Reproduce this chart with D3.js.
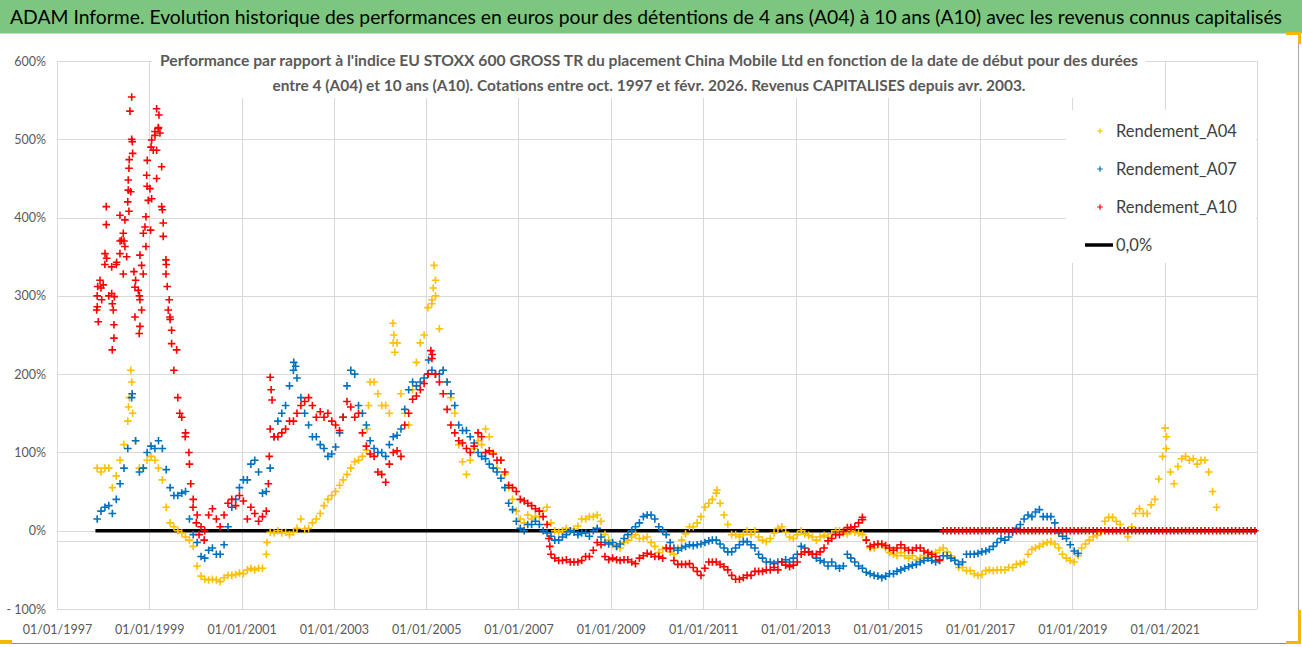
<!DOCTYPE html>
<html><head><meta charset="utf-8">
<script src="https://cdn.jsdelivr.net/npm/d3@7"></script>
<style>
html,body{margin:0;padding:0;background:#fff;}
svg{display:block;}
</style></head><body>
<svg id="chart" width="1302" height="647"></svg>
<script>
// ---------------- DATA ----------------
const titleText = "ADAM Informe. Evolution historique des performances en euros pour des détentions de 4 ans (A04) à 10 ans (A10) avec les revenus connus capitalisés";
const subtitleLines = [
  "Performance par rapport à l'indice EU STOXX 600 GROSS TR  du placement China Mobile Ltd en fonction de la date de début pour des durées",
  "entre 4 (A04) et 10 ans (A10). Cotations entre oct. 1997 et févr. 2026. Revenus CAPITALISES depuis avr. 2003."
];
const seriesNames = ["Rendement_A04", "Rendement_A07", "Rendement_A10"];
const zeroLineName = "0,0%";
const firstMonth = "1997-11";          // month of first value in each series
const lastAxisMonth = "2022-12";       // last month reached by the 0 % line
// monthly values (%) of each series, from Nov 1997
const a04 = [
  80, 75,
  80, 80, 55, 70, 90, 110, 140, 190, 115, 80, 80, 90,
  95, 90, 80, 65, 30, 10, 5, 0, -3, -8, -12, -20,
  -45, -58, -62, -63, -62, -63, -65, -60, -57, -57, -56, -54,
  -55, -50, -48, -50, -48, -48, -30, -2, -3, 0, -3, -2,
  -5, -2, 3, 15, 2, 3, 10, 15, 22, 32, 40, 45,
  50, 58, 65, 72, 80, 88, 90, 95, 103, 190, 190, 175,
  160, 160, 150, 240, 240, 175, 150, 135, 180, 215, 240, 250,
  285, 295, 320, 258, 205, 190, 170, 150, 110, 88, 72, 90,
  105, 115, 110, 130, 120, 100, 80, 90, 72, 55, 40, 25,
  15, 10, 20, 15, 18, 18, 25, 30, 10, 0, -2, 0,
  3, 0, 2, 6, 15, 15, 18, 18, 20, 12, -5, -12,
  -18, -20, -22, -15, -12, -8, -5, -10, -10, -8, -15, -20,
  -28, -24, -22, -27, -30, -22, -12, -4, 5, 5, 10, 18,
  30, 35, 40, 48, 35, 20, 8, -5, -5, -8, -5, 0,
  -5, 0, -8, -12, -14, -10, -3, 3, 5, -2, -8, -10,
  -5, 0, -4, -6, -8, -12, -8, -6, -8, -4, 0, 0,
  -3, -4, 0, -2, -3, -5, -12, -22, -22, -18, -18, -22,
  -28, -30, -32, -28, -32, -35, -32, -37, -35, -32, -35, -33,
  -28, -25, -22, -27, -32, -37, -47, -47, -51, -51, -55, -57,
  -56, -51, -50, -51, -50, -50, -50, -47, -47, -43, -42, -40,
  -30, -24, -22, -20, -17, -15, -14, -17, -22, -30, -35, -38,
  -40, -32, -22, -17, -12, -8, -6, -2, 12, 17, 17, 12,
  8, 0, -8, 5, 22, 28, 22, 22, 33, 40, 66, 95,
  120, 75, 60, 82, 92, 95, 90, 92, 85, 90, 90, 75,
  50, 30
];
const a07 = [
  15, 25,
  30, 32, 22, 40, 60, 80, 105, 170, 115, 75, 80, 100,
  108, 105, 115, 105, 78, 55, 45, 45, 48, 50, 15, -5,
  -15, -33, -35, -25, -22, -30, -30, -18, 5, 30, 40, 55,
  65, 65, 85, 90, 75, 48, 50, 80, 120, 140, 150, 160,
  185, 205, 195, 170, 150, 135, 120, 120, 110, 105, 95, 98,
  107, 125, 145, 185, 205, 200, 160, 150, 135, 115, 105, 100,
  100, 95, 110, 120, 122, 130, 155, 180, 190, 185, 190, 195,
  200, 205, 200, 200, 205, 190, 175, 160, 135, 128, 128, 120,
  112, 100, 95, 92, 85, 80, 75, 67, 55, 35, 27, 12,
  3, 0, 8, 8, 12, 8, 0, -3, -7, -12, -12, -8,
  -5, 0, -2, -5, -3, -3, -7, 0, 3, -8, -15, -17,
  -15, -20, -17, -10, -5, 0, 5, 10, 18, 20, 20, 15,
  5, 0, -5, -15, -22, -25, -22, -20, -18, -19, -18, -17,
  -15, -13, -12, -12, -17, -22, -27, -27, -22, -18, -14, -14,
  -18, -22, -30, -35, -40, -40, -42, -40, -40, -37, -40, -35,
  -30, -20, -22, -27, -30, -35, -38, -40, -45, -40, -45, -48,
  -45, -30, -35, -40, -45, -48, -53, -55, -57, -58, -60, -58,
  -55, -55, -52, -50, -48, -46, -44, -43, -40, -38, -35, -38,
  -40, -37, -32, -32, -35, -38, -43, -40, -30, -30, -30, -29,
  -27, -26, -24, -20, -15, -10, -12, -8, -2, 3, 8, 15,
  20, 18, 24, 27, 18, 18, 18, 10, -3, -7, -10, -18,
  -26, -29
];
const a10 = [
  300, 310,
  340, 300, 290, 340, 370, 370, 420, 500, 320, 300, 380, 440,
  490, 510, 515, 410, 340, 270, 205, 170, 145, 125, 85, 40,
  20, 5, 0, 20, 28, 15, 5, 20, 35, 40, 32, 45,
  38, 15, 30, 22, 12, 18, 25, 130, 120, 120, 125, 130,
  140, 140, 150, 160, 165, 170, 160, 145, 152, 145, 150, 140,
  135, 128, 145, 165, 158, 145, 150, 125, 108, 98, 95, 75,
  72, 62, 85, 100, 102, 95, 135, 150, 168, 172, 180, 188,
  200, 220, 200, 190, 175, 155, 135, 125, 115, 112, 105, 100,
  108, 125, 120, 100, 102, 98, 90, 90, 75, 58, 55, 50,
  40, 38, 35, 32, 28, 25, 18, 8, -30, -35, -38, -38,
  -37, -40, -40, -40, -38, -33, -33, -25, -15, -18, -33, -37,
  -35, -37, -38, -37, -37, -40, -42, -35, -32, -29, -30, -33,
  -33, -35, -22, -23, -38, -43, -43, -43, -42, -47, -52, -57,
  -48, -40, -40, -40, -43, -46, -50, -57, -62, -62, -60, -57,
  -57, -52, -52, -52, -50, -50, -47, -50, -40, -44, -46, -44,
  -40, -30, -27, -27, -30, -30, -27, -22, -13, -10, -5, -5,
  -1, 4, 4, 5, 10, 14, -12, -20, -18, -17, -17, -19,
  -22, -25, -22, -18, -22, -25, -25, -22, -22, -26, -28, -30,
  -33, -38, 0, 0, 0, 0, 0, 0, 0, 0, 0, 0,
  0, 0, 0, 0, 0, 0, 0, 0, 0, 0, 0, 0,
  0, 0, 0, 0, 0, 0, 0, 0, 0, 0, 0, 0,
  0, 0, 0, 0, 0, 0, 0, 0, 0, 0, 0, 0,
  0, 0, 0, 0, 0, 0, 0, 0, 0, 0, 0, 0,
  0, 0, 0, 0, 0, 0, 0, 0, 0, 0, 0, 0,
  0, 0, 0, 0, 0, 0, 0, 0, 0, 0, 0, 0
];
// additional individual points (peaks, steep moves): [decimal year, value %]
const a04ExtraPoints = [
  [1998.60,205],[1998.57,170],[1998.55,158],[1998.64,150],
  [2001.55,-15],[2003.72,130],[2003.75,160],
  [2004.28,265],[2004.30,250],[2004.32,228],
  [2005.17,339],[2005.15,310],[2005.20,300],[2005.12,290],
  [2011.30,52],[2021.01,131],[2021.03,105]
];
const a07ExtraPoints = [
  [1998.63,175],[2002.13,215],[2002.17,210],[2005.05,218]
];
const a10ExtraPoints = [
  [1998.619,554],[1998.582,536],[1998.632,497],[1998.640,482],[1998.567,474],[1998.560,463],
  [1998.545,448],[1998.545,435],[1998.597,433],[1998.560,408],[1998.068,414],[1998.068,391],
  [1998.365,403],[1998.473,397],[1998.437,380],[1998.402,371],[1998.473,363],[1998.365,354],
  [1998.040,354],[1998.077,348],[1998.294,343],[1998.510,350],[1998.437,328],[1998.185,337],
  [1997.932,320],[1997.882,312],[1998.003,314],[1998.185,303],[1998.242,299],[1997.969,295],
  [1997.873,286],[1997.860,282],[1998.220,282],[1997.895,267],[1998.235,263],[1998.235,246],
  [1998.198,231],
  [1999.160,539],[1999.210,531],[1999.195,514],[1999.052,499],[1999.124,505],[1999.232,508],
  [1999.160,486],[1999.087,486],[1998.957,473],[1998.944,454],[1999.160,450],[1999.269,465],
  [1999.015,437],[1998.978,422],[1999.052,424],[1998.928,401],[1999.269,414],[1999.303,393],
  [1998.907,388],[1999.030,384],[1998.928,363],[1998.798,352],[1998.835,339],[1998.870,328],
  [1998.668,331],[1998.762,307],[1998.690,311],[1998.798,295],[1998.835,282],[1998.690,273],
  [1998.798,261],[1998.783,252],[1999.303,376],[1999.362,346],[1999.362,328],[1999.390,312],
  [1999.433,295],[1999.412,282],[1999.449,273],[1999.485,256],[1999.485,239],[1999.594,231],
  [1999.66,150],[1999.78,120],[1999.86,100],[1999.90,60],[1999.95,30],[2000.02,10],
  [2000.08,-5],[2000.19,-12],
  [2001.58,60],[2001.60,95],[2001.62,196],[2001.64,180],[2001.66,167],
  [2005.10,230],[2005.13,225],[2007.66,-10],[2007.68,-20],[2014.45,17]
];
const zeroLineValue = 0;
const yTickValues = [-100, 0, 100, 200, 300, 400, 500, 600];
const xTickYears = [1997, 1999, 2001, 2003, 2005, 2007, 2009, 2011, 2013, 2015, 2017, 2019, 2021];
const xDomainYears = [1997, 2023];
const axisCrossValue = -13;   // value where the horizontal axis line is drawn

// ---------------- STYLE ----------------
const colors = ["#FFC000", "#0070C0", "#FF0000"];
const W = 1302, H = 647;
const plot = {left: 57, right: 1257, top: 61, bottom: 609};
const fontMain = "'Liberation Sans Narrow','Lato','Open Sans',sans-serif";
const fontAxis = "'Lato','Open Sans',sans-serif";

const svg = d3.select("#chart");
const x = d3.scaleTime()
  .domain(xDomainYears.map(y => new Date(y, 0, 1)))
  .range([plot.left, plot.right]);
const y = d3.scaleLinear().domain([-100, 600]).range([plot.bottom, plot.top]);

const parseMonth = d3.timeParse("%Y-%m");
const m0 = parseMonth(firstMonth);
const monthDate = i => d3.timeDay.offset(d3.timeMonth.offset(m0, i), 14);
const decYearDate = t => {
  const yr = Math.floor(t);
  const a = new Date(yr, 0, 1), b = new Date(yr + 1, 0, 1);
  return new Date(+a + (t - yr) * (b - a));
};

// background
svg.append("rect").attr("width", W).attr("height", H).attr("fill", "#fff");

// title bar
svg.append("rect").attr("x", 0).attr("y", 0).attr("width", W).attr("height", 33).attr("fill", "#7DC67F");
svg.append("line").attr("x1", 0).attr("x2", W).attr("y1", 33.5).attr("y2", 33.5).attr("stroke", "#D0D0D0");
svg.append("text").attr("x", 10).attr("y", 23.5)
  .attr("font-family", fontMain).attr("font-size", 19).attr("fill", "#000")
  .attr("textLength", 1272).attr("lengthAdjust", "spacingAndGlyphs")
  .text(titleText);

// gridlines
const g = svg.append("g");
g.selectAll("line.hy").data(yTickValues).join("line")
  .attr("x1", plot.left).attr("x2", plot.right)
  .attr("y1", d => Math.round(y(d)) + 0.5).attr("y2", d => Math.round(y(d)) + 0.5)
  .attr("stroke", "#D9D9D9").attr("stroke-width", 1);
const xTickDates = xTickYears.map(yy => new Date(yy, 0, 1));
g.selectAll("line.vx").data(xTickDates.concat([new Date(xDomainYears[1], 0, 1)])).join("line")
  .attr("x1", d => Math.round(x(d)) + 0.5).attr("x2", d => Math.round(x(d)) + 0.5)
  .attr("y1", plot.top).attr("y2", plot.bottom)
  .attr("stroke", "#D9D9D9").attr("stroke-width", 1);
// horizontal axis line
g.append("line").attr("x1", plot.left).attr("x2", plot.right)
  .attr("y1", Math.round(y(axisCrossValue)) + 0.5).attr("y2", Math.round(y(axisCrossValue)) + 0.5)
  .attr("stroke", "#D9D9D9");

// y axis labels
const yAxis = d3.axisLeft(y).tickValues(yTickValues).tickSize(0).tickPadding(11)
  .tickFormat(d => d < 0 ? "- " + Math.abs(d) + "%" : d + "%");
const ya = svg.append("g").attr("transform", `translate(${plot.left},0)`).call(yAxis);
ya.select(".domain").remove();
ya.selectAll("text").attr("font-family", fontAxis).attr("font-size", 12.5).attr("fill", "#595959");

// x axis labels
const xAxis = d3.axisBottom(x).tickValues(xTickDates).tickSize(0).tickPadding(16)
  .tickFormat(d3.timeFormat("%d/%m/%Y"));
const xa = svg.append("g").attr("transform", `translate(0,${plot.bottom})`).call(xAxis);
xa.select(".domain").remove();
xa.selectAll("text").attr("font-family", fontAxis).attr("font-size", 12.5).attr("fill", "#595959");

// subtitle box
svg.append("rect").attr("x", 152).attr("y", 44).attr("width", 994).attr("height", 54).attr("fill", "#fff");
subtitleLines.forEach((t, i) => {
  svg.append("text").attr("x", 649).attr("y", 66 + i * 25).attr("text-anchor", "middle")
    .attr("font-family", fontMain).attr("font-weight", "bold").attr("font-size", 15.5)
    .attr("fill", "#595959")
    .attr("textLength", i === 0 ? 978 : 753).attr("lengthAdjust", "spacingAndGlyphs")
    .text(t);
});

// zero line
svg.append("line")
  .attr("x1", x(m0)).attr("x2", x(d3.timeMonth.offset(parseMonth(lastAxisMonth), 1)))
  .attr("y1", y(zeroLineValue)).attr("y2", y(zeroLineValue))
  .attr("stroke", "#000").attr("stroke-width", 3.5);

// series markers
const plus = s => `M${-s},0H${s}M0,${-s}V${s}`;
const extras = [a04ExtraPoints, a07ExtraPoints, a10ExtraPoints];
[a04, a07, a10].forEach((arr, k) => {
  const gs = svg.append("g");
  gs.selectAll("path.m").data(arr).join("path")
    .attr("transform", (d, i) => `translate(${x(monthDate(i))},${y(d)})`)
    .attr("d", plus(3.8))
    .attr("stroke", colors[k]).attr("stroke-width", 1.6).attr("fill", "none");
  gs.selectAll("path.e").data(extras[k]).join("path")
    .attr("transform", d => `translate(${x(decYearDate(d[0]))},${y(d[1])})`)
    .attr("d", plus(3.8))
    .attr("stroke", colors[k]).attr("stroke-width", 1.6).attr("fill", "none");
});

// legend
svg.append("rect").attr("x", 1066).attr("y", 110).attr("width", 190).attr("height", 153).attr("fill", "#fff");
seriesNames.forEach((n, i) => {
  const ly = 131 + i * 38;
  svg.append("path").attr("transform", `translate(1100,${ly})`).attr("d", plus(2.8))
    .attr("stroke", colors[i]).attr("stroke-width", 1.2);
  svg.append("text").attr("x", 1116).attr("y", ly + 6)
    .attr("font-family", fontMain).attr("font-size", 16.5).attr("fill", "#404040")
    .text(n);
});
svg.append("line").attr("x1", 1085).attr("x2", 1113).attr("y1", 245).attr("y2", 245)
  .attr("stroke", "#000").attr("stroke-width", 3.5);
svg.append("text").attr("x", 1116).attr("y", 251)
  .attr("font-family", fontMain).attr("font-size", 16.5).attr("fill", "#404040").text(zeroLineName);

// frame
svg.append("line").attr("x1", 1298.5).attr("x2", 1298.5).attr("y1", 33).attr("y2", 644).attr("stroke", "#A6A6A6");
svg.append("line").attr("x1", 0).attr("x2", 1299).attr("y1", 643.5).attr("y2", 643.5).attr("stroke", "#8C8C8C");
// selection handles
const handles = [[0, 640, 12, 4], [1286, 32, 15, 3], [1298, 32, 3, 12], [1298, 610, 3, 34], [1286, 641, 15, 3]];
svg.selectAll("rect.h").data(handles).join("rect")
  .attr("x", d => d[0]).attr("y", d => d[1]).attr("width", d => d[2]).attr("height", d => d[3])
  .attr("fill", "#F5B800");
</script>
</body></html>
